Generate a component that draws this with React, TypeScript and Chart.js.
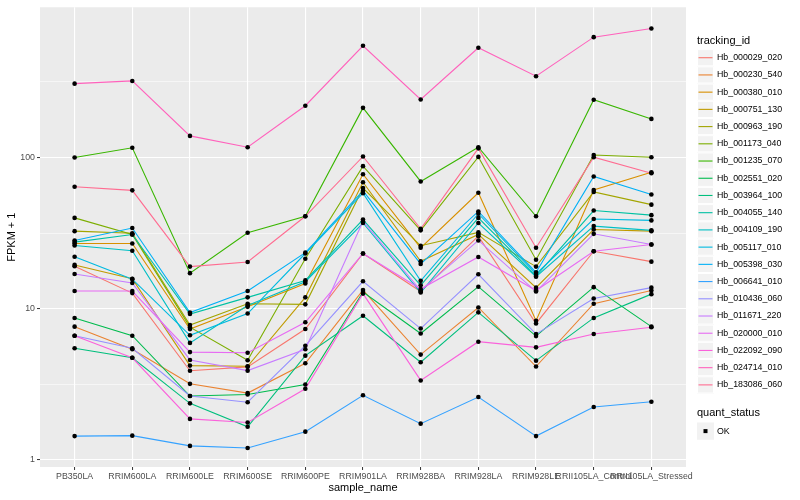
import React, { useEffect, useRef } from "react";
import { Chart, registerables } from "chart.js";

Chart.register(...registerables);

// ---------- data ----------
const sampleNames = [
  "PB350LA", "RRIM600LA", "RRIM600LE", "RRIM600SE", "RRIM600PE", "RRIM901LA",
  "RRIM928BA", "RRIM928LA", "RRIM928LE", "RRII105LA_Control", "RRII105LA_Stressed",
];

const trackingIds = [
  "Hb_000029_020", "Hb_000230_540", "Hb_000380_010", "Hb_000751_130", "Hb_000963_190",
  "Hb_001173_040", "Hb_001235_070", "Hb_002551_020", "Hb_003964_100", "Hb_004055_140",
  "Hb_004109_190", "Hb_005117_010", "Hb_005398_030", "Hb_006641_010", "Hb_010436_060",
  "Hb_011671_220", "Hb_020000_010", "Hb_022092_090", "Hb_024714_010", "Hb_183086_060",
];

const seriesColors = [
  "#F8766D", "#EA8331", "#D89000", "#C09B00", "#A3A500", "#7CAE00", "#39B600",
  "#00BB4E", "#00BF7D", "#00C1A3", "#00BFC4", "#00BAE0", "#00B0F6", "#35A2FF",
  "#9590FF", "#C77CFF", "#E76BF3", "#FA62DB", "#FF62BC", "#FF6C91",
];

// FPKM + 1 per sample
const hb000029_020 = [19.1, 12.7, 3.89, 4.13, 7.35, 23.2, 13.0, 30.2, 8.0, 24.0, 20.5];
const hb000230_540 = [7.62, 5.4, 3.19, 2.77, 4.36, 13.3, 4.98, 10.2, 4.15, 10.8, 13.2];
const hb000380_010 = [27.0, 27.0, 7.34, 10.3, 14.7, 77.6, 25.3, 58.5, 8.34, 61, 80];
const hb000751_130 = [19.5, 15.8, 4.21, 4.17, 11.9, 68.6, 20.6, 31.0, 13.8, 33.4, 32.6];
const hb000963_190 = [32.6, 31.6, 7.8, 10.8, 10.7, 62.9, 26.1, 32.0, 19.0, 59.2, 48.8];
const hb001173_040 = [39.9, 31.0, 7.56, 4.57, 21.4, 87.7, 33.0, 101, 21.1, 104, 100.4];
const hb001235_070 = [100, 116, 17.2, 31.8, 40.9, 213, 69.5, 117, 40.9, 241, 180];
const hb002551_020 = [8.69, 6.64, 2.65, 2.71, 3.16, 12.9, 6.87, 14.0, 6.6, 13.9, 7.62];
const hb003964_100 = [5.48, 4.74, 2.37, 1.66, 4.9, 9.0, 4.43, 9.47, 4.54, 8.7, 12.5];
const hb004055_140 = [27.6, 31.0, 9.23, 11.9, 15.4, 38.9, 14.3, 39.9, 16.5, 44.6, 41.6];
const hb004109_190 = [26.2, 24.2, 5.95, 10.5, 15.1, 36.9, 12.8, 36.9, 16.3, 35.2, 33.0];
const hb005117_010 = [22.1, 15.7, 6.68, 9.3, 23.2, 58.1, 15.3, 42.5, 17.0, 39.2, 38.4];
const hb005398_030 = [28.3, 34.2, 9.45, 13.1, 23.5, 60.2, 19.8, 44.0, 17.4, 75.0, 56.9];
const hb006641_010 = [1.44, 1.45, 1.24, 1.2, 1.54, 2.68, 1.74, 2.61, 1.44, 2.24, 2.43];
const hb010436_060 = [6.64, 5.48, 2.65, 2.41, 5.7, 15.2, 7.4, 16.9, 6.8, 11.7, 13.8];
const hb011671_220 = [17.0, 14.8, 4.59, 3.9, 5.4, 37.9, 13.2, 28.3, 13.0, 31.3, 26.6];
const hb020000_010 = [13.1, 13.1, 5.17, 5.12, 8.14, 23.2, 13.5, 22.0, 13.2, 24.0, 26.6];
const hb022092_090 = [6.64, 4.74, 1.87, 1.77, 2.96, 12.6, 3.36, 6.06, 5.56, 6.81, 7.55];
const hb024714_010 = [308, 321, 139, 117, 220, 548, 242, 532, 345, 625, 713];
const hb183086_060 = [64.1, 60.7, 19.0, 20.4, 40.9, 101.6, 33.8, 115, 25.3, 100.5, 78.8];

const seriesValues = [
  hb000029_020, hb000230_540, hb000380_010, hb000751_130, hb000963_190,
  hb001173_040, hb001235_070, hb002551_020, hb003964_100, hb004055_140,
  hb004109_190, hb005117_010, hb005398_030, hb006641_010, hb010436_060,
  hb011671_220, hb020000_010, hb022092_090, hb024714_010, hb183086_060,
];

const yMajorTicks = [1, 10, 100];
const yMinorTicks = [3.1623, 31.623, 316.23];
const quantStatus = ["OK"];

// ---------- styling ----------
const FONT = '"Liberation Sans", Arial, Helvetica, sans-serif';
const PANEL = { left: 40, right: 686, top: 5, bottom: 467 };
const DECADE_PX = 152;
const ONE_Y = 460;

const panelBgPlugin = {
  id: "panelBg",
  beforeDraw(chart: any) {
    const { ctx, chartArea } = chart;
    ctx.save();
    ctx.fillStyle = "#EBEBEB";
    ctx.fillRect(chartArea.left, chartArea.top, chartArea.right - chartArea.left, chartArea.bottom - chartArea.top);
    ctx.restore();
  },
};

const legendPlugin = {
  id: "ggLegend",
  afterDraw(chart: any) {
    const ctx = chart.ctx;
    ctx.save();
    const keyX = 697;
    const keyW = 17;
    const keyH = 17.22;
    const top0 = 49.1;
    ctx.textBaseline = "middle";
    ctx.textAlign = "left";
    ctx.fillStyle = "#000000";
    ctx.font = `11px ${FONT}`;
    ctx.fillText("tracking_id", keyX, 40.5);
    ctx.font = `8.8px ${FONT}`;
    trackingIds.forEach((id, i) => {
      const y = top0 + i * keyH;
      ctx.fillStyle = "#F2F2F2";
      ctx.fillRect(keyX, y, keyW, keyH);
      ctx.strokeStyle = "#FFFFFF";
      ctx.lineWidth = 1;
      ctx.strokeRect(keyX + 0.5, y + 0.5, keyW - 1, keyH - 1);
      ctx.strokeStyle = seriesColors[i];
      ctx.lineWidth = 1.1;
      ctx.beginPath();
      ctx.moveTo(keyX + 1.5, y + keyH / 2);
      ctx.lineTo(keyX + keyW - 1.5, y + keyH / 2);
      ctx.stroke();
      ctx.fillStyle = "#000000";
      ctx.fillText(id, keyX + keyW + 3, y + keyH / 2);
    });
    // quant_status legend
    ctx.font = `11px ${FONT}`;
    ctx.fillText("quant_status", keyX, 412.5);
    const qy = 422.5;
    quantStatus.forEach((s, i) => {
      const y = qy + i * keyH;
      ctx.fillStyle = "#F2F2F2";
      ctx.fillRect(keyX, y, keyW, keyH);
      ctx.fillStyle = "#000000";
      ctx.fillRect(keyX + keyW / 2 - 2, y + keyH / 2 - 2, 4, 4);
      ctx.font = `8.8px ${FONT}`;
      ctx.fillText(s, keyX + keyW + 3, y + keyH / 2);
    });
    ctx.restore();
  },
};

export default function App() {
  const canvasRef = useRef<HTMLCanvasElement | null>(null);

  useEffect(() => {
    document.body.style.margin = "0";
    const canvas = canvasRef.current;
    if (!canvas) return;

    const lineDatasets = seriesValues.map((vals, i) => ({
      type: "line" as const,
      label: trackingIds[i],
      data: vals.map((v, j) => ({ x: j, y: v })),
      borderColor: seriesColors[i],
      backgroundColor: seriesColors[i],
      borderWidth: 1.1,
      pointRadius: 0,
      tension: 0,
      fill: false,
      order: seriesValues.length - i,
    }));

    const pointDataset = {
      type: "scatter" as const,
      label: "points",
      data: seriesValues.flatMap((vals) => vals.map((v, j) => ({ x: j, y: v }))),
      backgroundColor: "#000000",
      borderColor: "#000000",
      borderWidth: 0,
      pointRadius: 2.3,
      pointStyle: "circle",
      showLine: false,
      order: 0,
    };

    const yMin = Math.pow(10, (ONE_Y - PANEL.bottom) / DECADE_PX);
    const yMax = Math.pow(10, (ONE_Y - PANEL.top) / DECADE_PX);

    const isMajor = (v: number) => yMajorTicks.some((m) => Math.abs(m - v) < 1e-6);

    const chart = new Chart(canvas, {
      type: "line",
      data: { datasets: [...lineDatasets, pointDataset] as any },
      options: {
        animation: false,
        responsive: false,
        maintainAspectRatio: false,
        devicePixelRatio: 1,
        layout: { padding: { left: 0, right: 800 - PANEL.right, top: PANEL.top, bottom: 0 } },
        plugins: { legend: { display: false }, tooltip: { enabled: false } },
        scales: {
          x: {
            type: "linear",
            min: -0.6,
            max: sampleNames.length - 1 + 0.6,
            afterBuildTicks: (scale: any) => {
              scale.ticks = sampleNames.map((_, i) => ({ value: i }));
            },
            afterFit: (scale: any) => {
              scale.height = 500 - PANEL.bottom;
            },
            ticks: {
              autoSkip: false,
              maxRotation: 0,
              minRotation: 0,
              padding: 1,
              color: "#4D4D4D",
              font: { family: FONT, size: 8.8 },
              callback: (v: any) => sampleNames[Math.round(Number(v))] ?? "",
            },
            grid: {
              color: "#FFFFFF",
              lineWidth: 1.1,
              drawTicks: true,
              tickLength: 3,
              tickColor: "#333333",
              tickWidth: 1,
            },
            border: { display: false },
            title: {
              display: true,
              text: "sample_name",
              color: "#000000",
              font: { family: FONT, size: 11 },
              padding: { top: 0, bottom: 5 },
            },
          },
          y: {
            type: "logarithmic",
            min: yMin,
            max: yMax,
            afterBuildTicks: (scale: any) => {
              scale.ticks = [...yMajorTicks, ...yMinorTicks]
                .sort((a, b) => a - b)
                .map((v) => ({ value: v, major: isMajor(v) }));
            },
            afterFit: (scale: any) => {
              scale.width = PANEL.left;
            },
            ticks: {
              autoSkip: false,
              padding: 2,
              color: "#4D4D4D",
              font: { family: FONT, size: 8.8 },
              callback: (v: any) => (isMajor(Number(v)) ? String(Number(v)) : ""),
            },
            grid: {
              color: "#FFFFFF",
              lineWidth: (ctx: any) => (ctx.tick && isMajor(ctx.tick.value) ? 1.1 : 0.55),
              drawTicks: true,
              tickLength: 3,
              tickColor: (ctx: any) => (ctx.tick && isMajor(ctx.tick.value) ? "#333333" : "rgba(0,0,0,0)"),
              tickWidth: 1,
            },
            border: { display: false },
            title: {
              display: true,
              text: "FPKM + 1",
              color: "#000000",
              font: { family: FONT, size: 11 },
              padding: { top: 5, bottom: 0 },
            },
          },
        },
      },
      plugins: [panelBgPlugin, legendPlugin],
    } as any);

    return () => chart.destroy();
  }, []);

  return (
    <div style={{ position: "fixed", left: 0, top: 0, width: 800, height: 500, background: "#FFFFFF" }}>
      <canvas ref={canvasRef} width={800} height={500} style={{ width: 800, height: 500, display: "block" }} />
    </div>
  );
}
